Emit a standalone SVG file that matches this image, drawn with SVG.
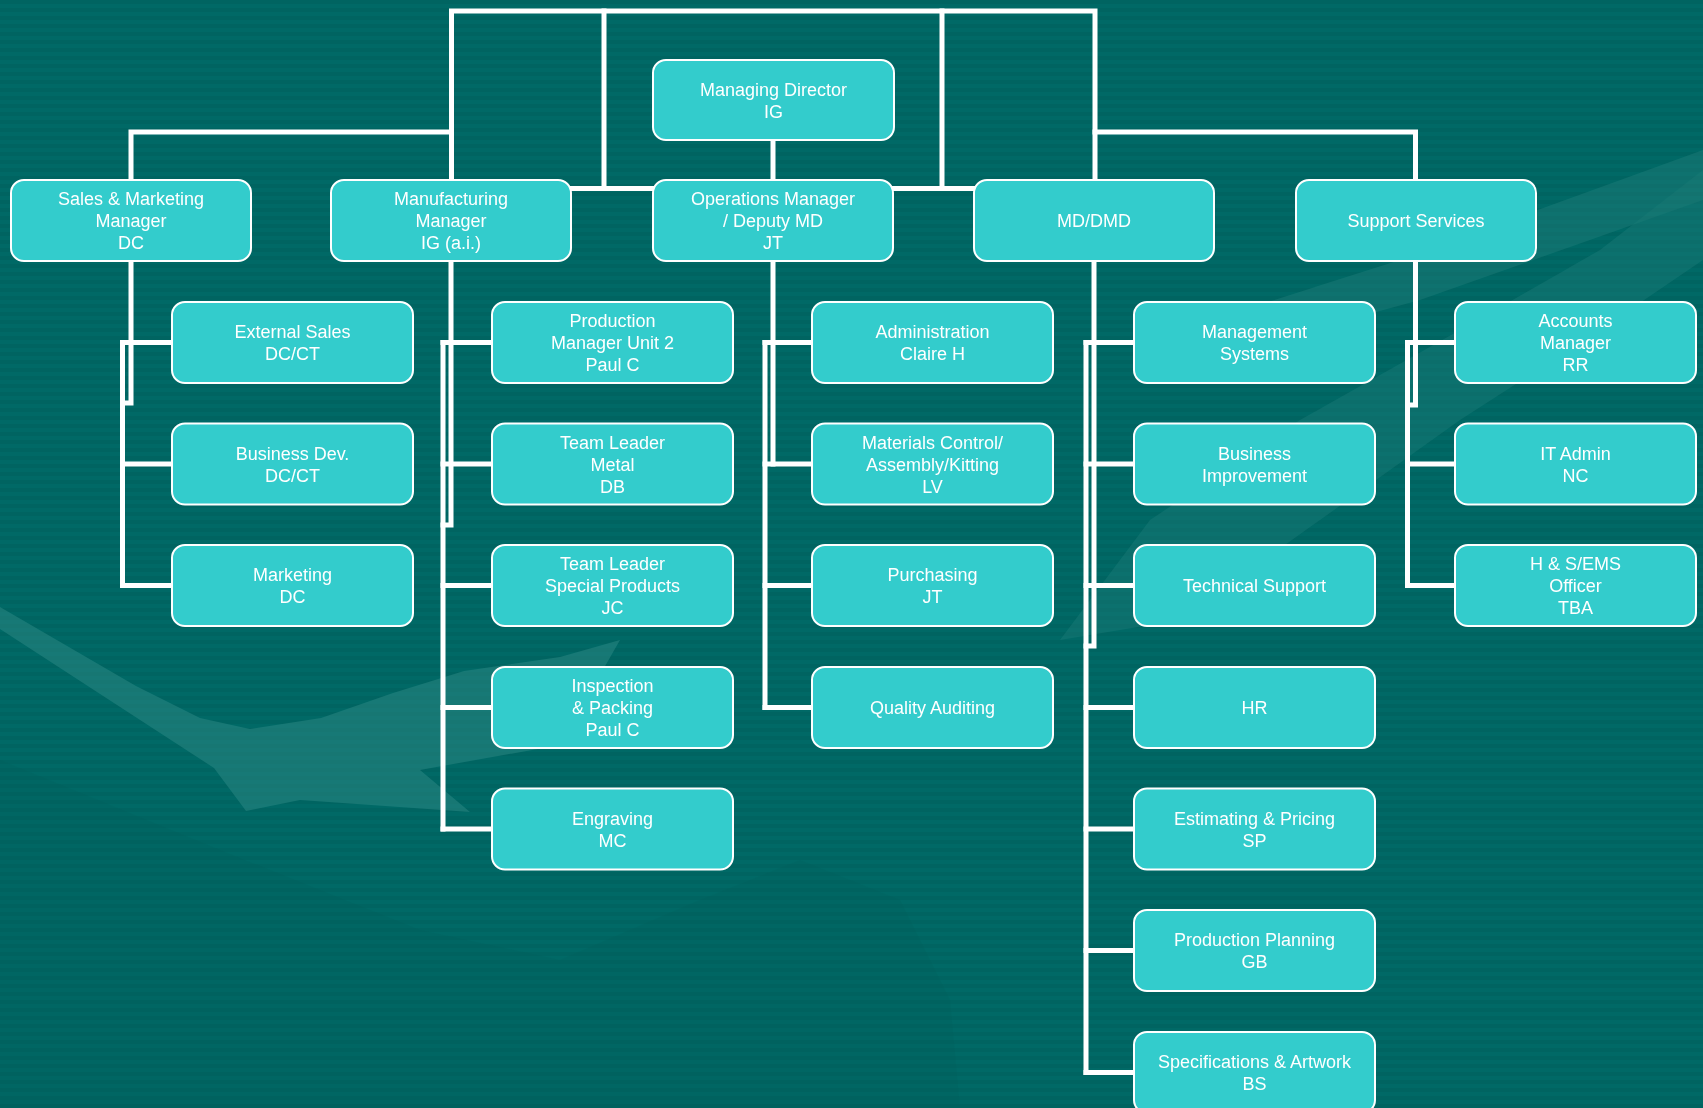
<svg xmlns="http://www.w3.org/2000/svg" width="1703" height="1108" viewBox="0 0 1703 1108">
  <defs>
    <pattern id="stripes" width="8" height="8" patternUnits="userSpaceOnUse">
      <rect x="0" y="0" width="8" height="4" fill="#005E5B"/>
    </pattern>
    <style>
      .box { fill: #33CCCC; stroke: #FFFFFF; stroke-width: 2; }
      .lbl { font-family: "Liberation Sans", Arial, sans-serif; font-size: 18px; fill: #FFFFFF; text-anchor: middle; }
      .conn { fill: none; stroke: #FFFFFF; stroke-width: 5; stroke-linecap: square; stroke-linejoin: miter; }
    </style>
  </defs>

  <!-- background -->
  <rect x="0" y="0" width="1703" height="1108" fill="#006966"/>
  <rect x="0" y="0" width="1703" height="1108" fill="url(#stripes)" opacity="0.45"/>
  <g id="background-decor" opacity="0.5">
    <path d="M0 607 L136 686 L200 718 L250 729 L321 718 L393 693 L464 671 L560 657 L620 640 L560 745 L420 770 L470 812 L300 800 L246 811 L214 768 L0 629 Z" fill="#2E8A86"/>
    <path d="M1060 640 L1150 520 L1300 420 L1460 330 L1600 250 L1703 170 L1703 260 L1600 330 L1460 420 L1320 520 L1180 620 Z" fill="#2A8682" opacity="0.6"/>
    <path d="M1180 330 L1400 260 L1703 150 L1703 200 L1420 300 L1200 360 Z" fill="#2E8A86" opacity="0.6"/>
    <path d="M0 760 L220 850 L420 930 L560 960 L700 900 L800 860 L900 900 L950 1000 L960 1108 L0 1108 Z" fill="#005C59" opacity="0.35"/>
  </g>

  <!-- connectors -->
  <g id="connectors" class="conn">
    <path d="M451.5 180 V11 H1095 V180"/>
    <path d="M604 11 V188.5"/>
    <path d="M942 11 V188.5"/>
    <path d="M131 180 V132 H451.5"/>
    <path d="M1095 132 H1415.5 V180"/>
    <path d="M571 188.5 H653"/>
    <path d="M894 188.5 H974"/>
    <path d="M773 140 V180"/>

    <!-- Sales column -->
    <path d="M131 261 V403 H122.5"/>
    <path d="M122.5 342.5 V585.5"/>
    <path d="M122.5 342.5 H172 M122.5 464 H172 M122.5 585.5 H172"/>

    <!-- Manufacturing column -->
    <path d="M451 261 V525 H443"/>
    <path d="M443 342.5 V829"/>
    <path d="M443 342.5 H492 M443 464 H492 M443 585.5 H492 M443 707.5 H492 M443 829 H492"/>

    <!-- Operations column -->
    <path d="M773 261 V464"/>
    <path d="M765 342.5 V707.5"/>
    <path d="M765 342.5 H812 M765 464 H812 M765 585.5 H812 M765 707.5 H812"/>

    <!-- MD/DMD column -->
    <path d="M1094 261 V646 H1086"/>
    <path d="M1086 342.5 V1072.5"/>
    <path d="M1086 342.5 H1134 M1086 464 H1134 M1086 585.5 H1134 M1086 707.5 H1134 M1086 829 H1134 M1086 950.5 H1134 M1086 1072.5 H1134"/>

    <!-- Support column -->
    <path d="M1415.5 261 V405 H1407.5"/>
    <path d="M1407.5 342.5 V585.5"/>
    <path d="M1407.5 342.5 H1455 M1407.5 464 H1455 M1407.5 585.5 H1455"/>
  </g>

  <!-- top level -->
  <g id="managing-director">
    <rect class="box" x="653" y="60" width="241" height="80" rx="13"/>
    <text class="lbl"><tspan x="773.5" y="95.5">Managing Director</tspan><tspan x="773.5" y="117.5">IG</tspan></text>
  </g>

  <g id="sales-marketing-manager">
    <rect class="box" x="11" y="180" width="240" height="81" rx="13"/>
    <text class="lbl"><tspan x="131" y="205">Sales &amp; Marketing</tspan><tspan x="131" y="227">Manager</tspan><tspan x="131" y="249">DC</tspan></text>
  </g>
  <g id="manufacturing-manager">
    <rect class="box" x="331" y="180" width="240" height="81" rx="13"/>
    <text class="lbl"><tspan x="451" y="205">Manufacturing</tspan><tspan x="451" y="227">Manager</tspan><tspan x="451" y="249">IG (a.i.)</tspan></text>
  </g>
  <g id="operations-manager">
    <rect class="box" x="653" y="180" width="240" height="81" rx="13"/>
    <text class="lbl"><tspan x="773" y="205">Operations Manager</tspan><tspan x="773" y="227">/ Deputy MD</tspan><tspan x="773" y="249">JT</tspan></text>
  </g>
  <g id="md-dmd">
    <rect class="box" x="974" y="180" width="240" height="81" rx="13"/>
    <text class="lbl" x="1094" y="227">MD/DMD</text>
  </g>
  <g id="support-services">
    <rect class="box" x="1296" y="180" width="240" height="81" rx="13"/>
    <text class="lbl" x="1416" y="227">Support Services</text>
  </g>

  <!-- Sales children -->
  <g id="external-sales">
    <rect class="box" x="172" y="302" width="241" height="81" rx="13"/>
    <text class="lbl"><tspan x="292.5" y="338">External Sales</tspan><tspan x="292.5" y="360">DC/CT</tspan></text>
  </g>
  <g id="business-dev">
    <rect class="box" x="172" y="423.5" width="241" height="81" rx="13"/>
    <text class="lbl"><tspan x="292.5" y="459.5">Business Dev.</tspan><tspan x="292.5" y="481.5">DC/CT</tspan></text>
  </g>
  <g id="marketing">
    <rect class="box" x="172" y="545" width="241" height="81" rx="13"/>
    <text class="lbl"><tspan x="292.5" y="581">Marketing</tspan><tspan x="292.5" y="603">DC</tspan></text>
  </g>

  <!-- Manufacturing children -->
  <g id="production-manager-unit2">
    <rect class="box" x="492" y="302" width="241" height="81" rx="13"/>
    <text class="lbl"><tspan x="612.5" y="327">Production</tspan><tspan x="612.5" y="349">Manager Unit 2</tspan><tspan x="612.5" y="371">Paul C</tspan></text>
  </g>
  <g id="team-leader-metal">
    <rect class="box" x="492" y="423.5" width="241" height="81" rx="13"/>
    <text class="lbl"><tspan x="612.5" y="448.5">Team Leader</tspan><tspan x="612.5" y="470.5">Metal</tspan><tspan x="612.5" y="492.5">DB</tspan></text>
  </g>
  <g id="team-leader-special">
    <rect class="box" x="492" y="545" width="241" height="81" rx="13"/>
    <text class="lbl"><tspan x="612.5" y="570">Team Leader</tspan><tspan x="612.5" y="592">Special Products</tspan><tspan x="612.5" y="614">JC</tspan></text>
  </g>
  <g id="inspection-packing">
    <rect class="box" x="492" y="667" width="241" height="81" rx="13"/>
    <text class="lbl"><tspan x="612.5" y="692">Inspection</tspan><tspan x="612.5" y="714">&amp; Packing</tspan><tspan x="612.5" y="736">Paul C</tspan></text>
  </g>
  <g id="engraving">
    <rect class="box" x="492" y="788.5" width="241" height="81" rx="13"/>
    <text class="lbl"><tspan x="612.5" y="824.5">Engraving</tspan><tspan x="612.5" y="846.5">MC</tspan></text>
  </g>

  <!-- Operations children -->
  <g id="administration">
    <rect class="box" x="812" y="302" width="241" height="81" rx="13"/>
    <text class="lbl"><tspan x="932.5" y="338">Administration</tspan><tspan x="932.5" y="360">Claire H</tspan></text>
  </g>
  <g id="materials-control">
    <rect class="box" x="812" y="423.5" width="241" height="81" rx="13"/>
    <text class="lbl"><tspan x="932.5" y="448.5">Materials Control/</tspan><tspan x="932.5" y="470.5">Assembly/Kitting</tspan><tspan x="932.5" y="492.5">LV</tspan></text>
  </g>
  <g id="purchasing">
    <rect class="box" x="812" y="545" width="241" height="81" rx="13"/>
    <text class="lbl"><tspan x="932.5" y="581">Purchasing</tspan><tspan x="932.5" y="603">JT</tspan></text>
  </g>
  <g id="quality-auditing">
    <rect class="box" x="812" y="667" width="241" height="81" rx="13"/>
    <text class="lbl" x="932.5" y="714">Quality Auditing</text>
  </g>

  <!-- MD/DMD children -->
  <g id="management-systems">
    <rect class="box" x="1134" y="302" width="241" height="81" rx="13"/>
    <text class="lbl"><tspan x="1254.5" y="338">Management</tspan><tspan x="1254.5" y="360">Systems</tspan></text>
  </g>
  <g id="business-improvement">
    <rect class="box" x="1134" y="423.5" width="241" height="81" rx="13"/>
    <text class="lbl"><tspan x="1254.5" y="459.5">Business</tspan><tspan x="1254.5" y="481.5">Improvement</tspan></text>
  </g>
  <g id="technical-support">
    <rect class="box" x="1134" y="545" width="241" height="81" rx="13"/>
    <text class="lbl" x="1254.5" y="592">Technical Support</text>
  </g>
  <g id="hr">
    <rect class="box" x="1134" y="667" width="241" height="81" rx="13"/>
    <text class="lbl" x="1254.5" y="714">HR</text>
  </g>
  <g id="estimating-pricing">
    <rect class="box" x="1134" y="788.5" width="241" height="81" rx="13"/>
    <text class="lbl"><tspan x="1254.5" y="824.5">Estimating &amp; Pricing</tspan><tspan x="1254.5" y="846.5">SP</tspan></text>
  </g>
  <g id="production-planning">
    <rect class="box" x="1134" y="910" width="241" height="81" rx="13"/>
    <text class="lbl"><tspan x="1254.5" y="946">Production Planning</tspan><tspan x="1254.5" y="968">GB</tspan></text>
  </g>
  <g id="specifications-artwork">
    <rect class="box" x="1134" y="1032" width="241" height="81" rx="13"/>
    <text class="lbl"><tspan x="1254.5" y="1068">Specifications &amp; Artwork</tspan><tspan x="1254.5" y="1090">BS</tspan></text>
  </g>

  <!-- Support children -->
  <g id="accounts-manager">
    <rect class="box" x="1455" y="302" width="241" height="81" rx="13"/>
    <text class="lbl"><tspan x="1575.5" y="327">Accounts</tspan><tspan x="1575.5" y="349">Manager</tspan><tspan x="1575.5" y="371">RR</tspan></text>
  </g>
  <g id="it-admin">
    <rect class="box" x="1455" y="423.5" width="241" height="81" rx="13"/>
    <text class="lbl"><tspan x="1575.5" y="459.5">IT Admin</tspan><tspan x="1575.5" y="481.5">NC</tspan></text>
  </g>
  <g id="hs-ems-officer">
    <rect class="box" x="1455" y="545" width="241" height="81" rx="13"/>
    <text class="lbl"><tspan x="1575.5" y="570">H &amp; S/EMS</tspan><tspan x="1575.5" y="592">Officer</tspan><tspan x="1575.5" y="614">TBA</tspan></text>
  </g>
</svg>
